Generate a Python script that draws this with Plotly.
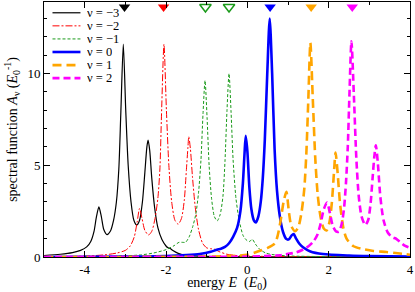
import plotly.graph_objects as go

# ---------------- data ----------------
labels = ["ν = −3", "ν = −2", "ν = −1", "ν = 0", "ν = 1", "ν = 2"]

x_m3 = [-5.0, -4.6, -4.3, -4.1, -3.95, -3.85, -3.77, -3.71, -3.65, -3.59, -3.53, -3.45, -3.37, -3.29, -3.22,
        -3.16, -3.11, -3.05, -2.99, -2.93, -2.86, -2.79, -2.72, -2.65, -2.58, -2.52, -2.47, -2.44, -2.40,
        -2.35, -2.28, -2.2, -2.1, -2.0, -1.95, -1.9, -1.83, -1.7, -1.5, -1.0, 0.0, 4.0]
y_m3 = [0.08, 0.15, 0.24, 0.36, 0.55, 0.85, 1.4, 2.2, 2.73, 2.2, 1.5, 1.22, 1.4, 2.0, 3.0,
        4.8, 7.9, 11.6, 8.0, 5.0, 3.0, 2.0, 1.74, 2.0, 3.0, 4.6, 6.0, 6.37, 5.8,
        4.3, 2.7, 1.6, 0.95, 0.6, 0.5, 0.47, 0.35, 0.2, 0.09, 0.03, 0.01, 0.0]

x_m2 = [-5.0, -4.0, -3.5, -3.2, -3.0, -2.88, -2.78, -2.71, -2.65, -2.59, -2.52, -2.43, -2.35, -2.27, -2.2,
        -2.15, -2.11, -2.05, -1.99, -1.93, -1.86, -1.78, -1.70, -1.62, -1.55, -1.5, -1.46, -1.44, -1.40,
        -1.35, -1.28, -1.2, -1.1, -1.0, -0.9, -0.8, -0.7, -0.5, -0.2, 0.5, 4.0]
y_m2 = [0.02, 0.05, 0.12, 0.22, 0.36, 0.6, 1.1, 1.9, 2.65, 2.1, 1.45, 1.2, 1.4, 2.1, 3.2,
        4.8, 7.8, 11.6, 8.0, 5.0, 3.0, 2.0, 1.79, 2.1, 3.1, 4.7, 6.0, 6.56, 5.9,
        4.4, 2.7, 1.5, 0.75, 0.5, 0.45, 0.42, 0.3, 0.15, 0.07, 0.03, 0.0]

x_m1 = [-5.0, -3.5, -3.0, -2.6, -2.3, -2.0, -1.8, -1.68, -1.6, -1.52, -1.43, -1.35, -1.27, -1.2, -1.14,
        -1.09, -1.04, -0.99, -0.94, -0.88, -0.81, -0.74, -0.67, -0.6, -0.55, -0.5, -0.45, -0.4, -0.35,
        -0.28, -0.2, -0.1, 0.0, 0.06, 0.12, 0.2, 0.3, 0.45, 0.6, 1.0, 2.0, 4.0]
y_m1 = [0.01, 0.03, 0.06, 0.12, 0.22, 0.4, 0.62, 0.8, 0.8, 0.8, 1.1, 1.6, 2.3, 3.5, 5.3,
        7.8, 9.62, 7.6, 5.0, 3.2, 2.2, 1.97, 2.3, 3.3, 5.2, 8.0, 10.0, 7.9, 5.3,
        3.2, 2.0, 1.15, 0.88, 0.85, 0.97, 0.7, 0.43, 0.22, 0.14, 0.06, 0.02, 0.0]

x_0 = [-5.0, -3.0, -2.0, -1.5, -1.17, -0.9, -0.75, -0.65, -0.55, -0.45, -0.35, -0.25, -0.17, -0.11, -0.07,
       -0.04, 0.0, 0.05, 0.1, 0.16, 0.21, 0.27, 0.33, 0.38, 0.43, 0.49, 0.55, 0.61, 0.67, 0.73, 0.8,
       0.88, 0.96, 1.02, 1.09, 1.14, 1.2, 1.28, 1.37, 1.55, 1.86, 2.5, 3.0, 4.0]
y_0 = [0.0, 0.02, 0.05, 0.1, 0.16, 0.28, 0.4, 0.45, 0.55, 0.75, 1.1, 1.6, 2.5, 4.0, 5.6,
       6.6, 5.8, 3.8, 2.6, 2.0, 1.88, 2.2, 3.0, 4.3, 6.4, 10.0, 13.0, 10.0, 5.9, 3.6, 2.2,
       1.35, 0.98, 0.96, 1.18, 1.25, 1.0, 0.72, 0.53, 0.3, 0.16, 0.08, 0.05, 0.03]

x_p1 = [-5.0, -1.0, -0.5, 0.0, 0.31, 0.5, 0.68, 0.75, 0.82, 0.89, 0.96, 1.02, 1.08, 1.17, 1.25, 1.33,
        1.4, 1.45, 1.5, 1.55, 1.61, 1.67, 1.73, 1.8, 1.88, 1.95, 2.02, 2.08, 2.13, 2.17, 2.22, 2.28,
        2.36, 2.44, 2.6, 2.85, 3.1, 3.42, 3.7, 4.0]
y_p1 = [0.0, 0.02, 0.05, 0.12, 0.34, 0.5, 0.75, 1.2, 2.0, 3.0, 3.55, 2.5, 1.7, 1.4, 1.6, 2.4,
        3.7, 5.6, 8.6, 11.67, 8.6, 5.4, 3.4, 2.2, 1.55, 1.45, 1.9, 3.0, 4.6, 5.69, 4.6, 2.9,
        1.6, 1.0, 0.6, 0.43, 0.33, 0.27, 0.2, 0.12]

x_p2 = [-5.0, 0.0, 0.8, 1.21, 1.45, 1.62, 1.72, 1.8, 1.88, 1.96, 2.03, 2.1, 2.18, 2.25, 2.32, 2.38,
        2.43, 2.47, 2.51, 2.56, 2.62, 2.68, 2.74, 2.81, 2.9, 2.97, 3.03, 3.08, 3.12, 3.16, 3.21, 3.27,
        3.35, 3.45, 3.55, 3.67, 3.77, 3.87, 4.0]
y_p2 = [0.0, 0.02, 0.1, 0.26, 0.5, 0.83, 1.2, 1.8, 2.6, 2.97, 2.4, 1.7, 1.4, 1.38, 1.8, 2.7,
        4.2, 6.0, 8.8, 11.76, 8.8, 5.4, 3.3, 2.2, 1.74, 2.0, 2.9, 4.3, 5.4, 6.09, 5.1, 3.3,
        2.0, 1.35, 1.1, 0.98, 0.8, 0.62, 0.5]

marker_x = [-3.02, -2.06, -1.03, -0.45, 0.56, 1.57, 2.58]
marker_y = [13.63, 13.63, 13.63, 13.63, 13.63, 13.63, 13.63]
marker_series = [0, 1, 2, 2, 3, 4, 5]
marker_filled = [True, True, False, False, True, True, True]

# ---------------- styles ----------------
colors = ["#000000", "#ff0000", "#1a9a1a", "#0000ff", "#ffa500", "#ff00ff"]
widths = [1.2, 1.0, 1.0, 2.6, 2.6, 2.6]
dashes = ["solid", "7px,2px,2px,2px", "3px,2px", "solid", "9px,5px", "7px,4px"]

series_x = [x_m3, x_m2, x_m1, x_0, x_p1, x_p2]
series_y = [y_m3, y_m2, y_m1, y_0, y_p1, y_p2]

SERIF = "Liberation Serif"

fig = go.Figure()
for i in range(6):
    fig.add_trace(go.Scatter(
        x=series_x[i], y=series_y[i], mode="lines", name=labels[i],
        line=dict(color=colors[i], width=widths[i], dash=dashes[i], shape="spline", smoothing=0.7),
        showlegend=False))

for mx, my, s, f in zip(marker_x, marker_y, marker_series, marker_filled):
    fig.add_trace(go.Scatter(
        x=[mx], y=[my], mode="markers", showlegend=False,
        marker=dict(symbol="triangle-down" if f else "triangle-down-open", size=10,
                    color=colors[s], line=dict(color=colors[s], width=1.5 if not f else 0))))

# manual legend (top-left, inside plot)
W, H = 415, 292
ml, mr, mt, mb = 43.5, 5, 2, 34.5
pw, ph = W - ml - mr, H - mt - mb
def px_x(p):
    return (p - ml) / pw
def px_y(p):
    return (H - mb - p) / ph

shapes = []
annotations = []
for i in range(6):
    yy = px_y(12.8 + 13.1 * i)
    shapes.append(dict(type="line", xref="paper", yref="paper",
                       x0=px_x(52), x1=px_x(80), y0=yy, y1=yy,
                       line=dict(color=colors[i], width=widths[i], dash=dashes[i])))
    annotations.append(dict(xref="paper", yref="paper", x=px_x(86), y=yy,
                            xanchor="left", yanchor="middle", text=labels[i], showarrow=False,
                            height=12, valign="middle", borderpad=0,
                            font=dict(family=SERIF, size=12.5, color="black")))

fig.update_layout(
    width=W, height=H,
    margin=dict(l=ml, r=mr, t=mt, b=mb),
    paper_bgcolor="white", plot_bgcolor="white",
    shapes=shapes, annotations=annotations,
    font=dict(family=SERIF, size=13, color="black"),
)

fig.update_xaxes(
    range=[-5, 4], tickvals=[-4, -2, 0, 2, 4], ticktext=["-4", "-2", "0", "2", "4"],
    ticks="inside", ticklen=6, tickcolor="black", tickwidth=1,
    minor=dict(dtick=1, tick0=0, ticks="inside", ticklen=3, tickcolor="black"),
    showline=True, linecolor="black", linewidth=1, mirror="ticks",
    showgrid=False, zeroline=False,
    tickfont=dict(family=SERIF, size=13),
    title=dict(text="energy <i>E</i>  (<i>E</i><sub>0</sub>)", font=dict(family=SERIF, size=14), standoff=2),
)
fig.update_yaxes(
    range=[0, 13.9], tickvals=[0, 5, 10], ticktext=["0", "5", "10"],
    ticks="inside", ticklen=6, tickcolor="black", tickwidth=1,
    minor=dict(dtick=1, tick0=0, ticks="inside", ticklen=3, tickcolor="black"),
    showline=True, linecolor="black", linewidth=1, mirror="ticks",
    showgrid=False, zeroline=False,
    tickfont=dict(family=SERIF, size=13),
    title=dict(text="spectral function <i>A</i><sub>ν</sub> (<i>E</i><sub>0</sub><sup>-1</sup>)",
               font=dict(family=SERIF, size=14), standoff=6),
)

fig.write_html("out.html", config={"displayModeBar": False},
               post_script="document.body.style.margin='0';document.body.style.overflow='hidden';")
